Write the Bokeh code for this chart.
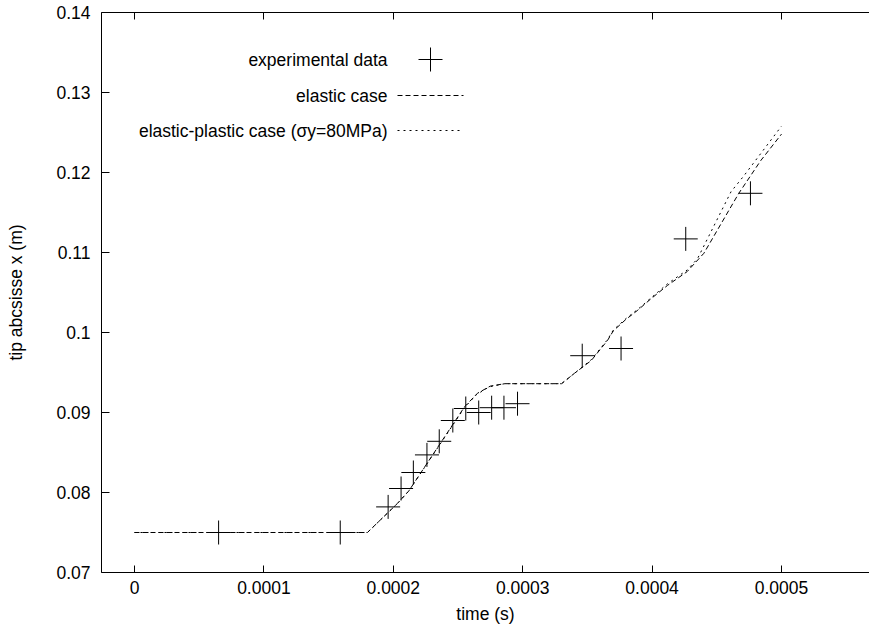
from bokeh.plotting import figure
from bokeh.models import (Range1d, FixedTicker, CustomJSTickFormatter, LinearAxis,
                          Label, Arrow)
from bokeh.embed import file_html
from bokeh.resources import INLINE

# ---------------- data ----------------
t_exp = [0.000065, 0.000159, 0.000196, 0.000206, 0.0002155, 0.000226, 0.0002355,
         0.000246, 0.000256, 0.000266, 0.000276, 0.0002855, 0.000296, 0.000346,
         0.000376, 0.000426, 0.000476]
x_exp = [0.0750, 0.0750, 0.0782, 0.0805, 0.0825, 0.0847, 0.0864, 0.0890, 0.0905,
         0.0900, 0.0906, 0.0906, 0.0911, 0.0971, 0.0980, 0.1117, 0.1174]

t_elastic = [0.0, 0.00018, 0.000203, 0.000212, 0.000255, 0.000265, 0.000275,
             0.000286, 0.00033, 0.00034, 0.000353, 0.0003655, 0.00037, 0.0003795,
             0.000389, 0.000399, 0.000412, 0.000427, 0.00044, 0.000467, 0.000484,
             0.0005]
x_elastic = [0.0750, 0.0750, 0.0786, 0.0802, 0.0907, 0.0924, 0.0933,
             0.0936, 0.0936, 0.0949, 0.0965, 0.0990, 0.1002, 0.1016,
             0.1028, 0.1042, 0.1059, 0.1076, 0.1099, 0.1174, 0.1215,
             0.1248]

t_plastic = [0.0, 0.00018, 0.000203, 0.000212, 0.000255, 0.000264, 0.000274,
             0.000286, 0.00033, 0.00034, 0.000353, 0.0003655, 0.00037, 0.0003795,
             0.000389, 0.000399, 0.000412, 0.000427, 0.000435, 0.000461, 0.000471,
             0.0005]
x_plastic = [0.0750, 0.0750, 0.0786, 0.0802, 0.0906, 0.0922, 0.0932,
             0.0936, 0.0936, 0.0949, 0.0966, 0.0991, 0.1003, 0.1017,
             0.1029, 0.1043, 0.1061, 0.1078, 0.1092, 0.1176, 0.1196,
             0.1258]

x_ticks = [0.0, 0.0001, 0.0002, 0.0003, 0.0004, 0.0005]
x_tick_labels = ["0", "0.0001", "0.0002", "0.0003", "0.0004", "0.0005"]
y_ticks = [0.07, 0.08, 0.09, 0.1, 0.11, 0.12, 0.13, 0.14]
y_tick_labels = ["0.07", "0.08", "0.09", "0.1", "0.11", "0.12", "0.13", "0.14"]

legend_labels = ["experimental data", "elastic case",
                 "elastic-plastic case (\u03c3y=80MPa)"]

FONT = "Liberation Sans"
FS = "17.5px"

p = figure(width=869, height=627, output_backend="svg", toolbar_location=None,
           x_range=Range1d(-0.0000255, 0.000568), y_range=Range1d(0.07, 0.14),
           min_border_left=101, min_border_top=12, min_border_right=0,
           min_border_bottom=55)
p.outline_line_color = None
p.grid.visible = False
p.background_fill_color = "white"

fmt_code = """
const i = tv.findIndex(t => Math.abs(t - tick) < 1e-12);
return i >= 0 ? lbl[i] : '';
"""
xfmt = CustomJSTickFormatter(args=dict(tv=x_ticks, lbl=x_tick_labels), code=fmt_code)
yfmt = CustomJSTickFormatter(args=dict(tv=y_ticks, lbl=y_tick_labels), code=fmt_code)

xa = p.xaxis[0]
xa.ticker = FixedTicker(ticks=x_ticks)
xa.formatter = xfmt
xa.axis_label = "time (s)"
xa.major_label_standoff = 8
xa.axis_label_standoff = 7

ya = p.yaxis[0]
ya.ticker = FixedTicker(ticks=y_ticks)
ya.formatter = yfmt
ya.axis_label = "tip abcsisse x (m)"
ya.major_label_standoff = 11
ya.axis_label_standoff = 27

for ax, tl in ((xa, 7), (ya, 8)):
    ax.major_tick_in = tl
    ax.major_tick_out = 0
    ax.minor_tick_line_color = None
    ax.axis_line_color = "black"
    ax.axis_line_width = 1
    ax.major_tick_line_color = "black"
    ax.major_label_text_font = FONT
    ax.major_label_text_font_size = FS
    ax.major_label_text_color = "black"
    ax.axis_label_text_font = FONT
    ax.axis_label_text_font_style = "normal"
    ax.axis_label_text_font_size = FS
    ax.axis_label_text_color = "black"

# top border with mirrored (unlabelled) ticks
top = LinearAxis(ticker=FixedTicker(ticks=[], minor_ticks=x_ticks),
                 major_tick_line_color=None, minor_tick_in=7, minor_tick_out=0,
                 minor_tick_line_color="black", axis_line_color="black",
                 major_label_standoff=0, axis_label_standoff=0)
p.add_layout(top, "above")

p.line(t_elastic, x_elastic, line_color="black", line_width=1, line_dash="5 3")
p.line(t_plastic, x_plastic, line_color="black", line_width=1, line_dash="2 4")
p.scatter(t_exp, x_exp, marker="cross", size=24, line_color="black", line_width=1)

# legend (screen units relative to the plot frame)
rows_y = [513, 477, 442]
for lab, yy in zip(legend_labels, rows_y):
    p.add_layout(Label(x=286, y=yy, x_units="screen", y_units="screen", text=lab,
                       text_align="right", text_baseline="middle", text_font=FONT,
                       text_font_size=FS, text_color="black"))
p.add_layout(Arrow(end=None, x_start=317, y_start=513, x_end=341, y_end=513,
                   start_units="screen", end_units="screen", line_color="black", line_width=1))
p.add_layout(Arrow(end=None, x_start=329, y_start=501, x_end=329, y_end=525,
                   start_units="screen", end_units="screen", line_color="black", line_width=1))
p.add_layout(Arrow(end=None, x_start=296, y_start=477, x_end=362, y_end=477,
                   start_units="screen", end_units="screen", line_color="black",
                   line_width=1, line_dash="5 3"))
p.add_layout(Arrow(end=None, x_start=296, y_start=442, x_end=362, y_end=442,
                   start_units="screen", end_units="screen", line_color="black",
                   line_width=1, line_dash="2 4"))

open("out.html", "w").write(file_html(p, INLINE))
